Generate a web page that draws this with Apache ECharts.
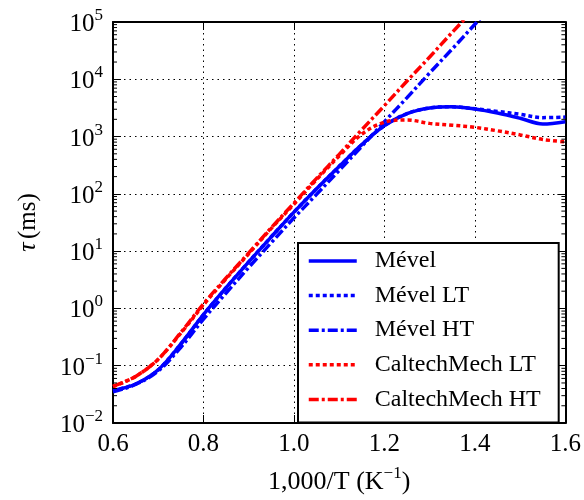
<!DOCTYPE html>
<html>
<head>
<meta charset="utf-8">
<script src="https://cdn.jsdelivr.net/npm/echarts@6/dist/echarts.min.js"></script>
<style>
  html, body { margin: 0; padding: 0; background: #fff; }
  #chart { width: 584px; height: 500px; }
</style>
</head>
<body>
<div id="chart"></div>
<script>
// 1000/T values (K^-1)
const invT = [0.60, 0.65, 0.70, 0.75, 0.80, 0.85, 0.90, 0.95, 1.00, 1.05, 1.10,
              1.15, 1.20, 1.25, 1.30, 1.35, 1.40, 1.45, 1.50, 1.55, 1.60];

// ignition delay tau (ms)
const mevel = [0.037, 0.048, 0.085, 0.24, 0.78, 2.3, 6.5, 17.8, 48, 123, 302,
               725, 1550, 2510, 3160, 3310, 3020, 2570, 2090, 1660, 1820];
const mevelLT = [0.037, 0.048, 0.085, 0.24, 0.78, 2.3, 6.5, 17.8, 48, 123, 302,
                 725, 1550, 2510, 3160, 3310, 3050, 2750, 2450, 2140, 2190];
const mevelHT = [0.035, 0.047, 0.081, 0.21, 0.65, 1.86, 5.2, 14.1, 38, 98, 257,
                 676, 1820, 4790, 12900, 33900, 91200, 240000];
const caltechLT = [0.043, 0.065, 0.13, 0.37, 1.15, 3.3, 9.0, 25, 66, 178, 457,
                   1100, 1780, 1950, 1700, 1580, 1450, 1260, 1070, 890, 810];
const caltechHT = [0.044, 0.065, 0.13, 0.38, 1.2, 3.4, 9.3, 25.7, 69, 186, 490,
                   1320, 3470, 9330, 24500, 66100, 174000];

// minor log ticks 2..9 x 10^n
const minorTicks = [];
for (let e = -2; e < 5; e++) {
    for (let k = 2; k < 10; k++) minorTicks.push(k * Math.pow(10, e));
}

const FONT = "Liberation Serif";
const pair = (ys) => ys.map((y, i) => [invT[i], y]);

function supLabel(v) {
    const e = Math.round(Math.log10(v));
    const s = e < 0 ? "\u2212" + (-e) : String(e);
    return "{b|10}{s|" + s + "}";
}

const supRich = {
    b: { fontFamily: FONT, fontSize: 25, color: "#000", lineHeight: 30, verticalAlign: "bottom" },
    s: { fontFamily: FONT, fontSize: 17, color: "#000", lineHeight: 18, verticalAlign: "top" }
};

const chart = echarts.init(document.getElementById("chart"));

const lineSeries = (name, ys, color, type) => ({
    name: name,
    type: "line",
    data: pair(ys),
    smooth: 0.35,
    symbol: "none",
    clip: true,
    z: 3,
    lineStyle: { color: color, width: 3.5, type: type },
    itemStyle: { color: color }
});

const option = {
    animation: false,
    backgroundColor: "#fff",
    grid: { left: 113, right: 18, top: 22, bottom: 77 },
    xAxis: [
        {
            type: "value",
            min: 0.6,
            max: 1.6,
            interval: 0.2,
            name: "{n|1,000/T (K}{s|\u22121}{n|)}",
            nameLocation: "middle",
            nameGap: 42,
            nameTextStyle: {
                rich: {
                    n: { fontFamily: FONT, fontSize: 26, color: "#000", lineHeight: 30, verticalAlign: "bottom" },
                    s: { fontFamily: FONT, fontSize: 17, color: "#000", lineHeight: 16, verticalAlign: "top" }
                }
            },
            axisLine: { show: true, onZero: false, lineStyle: { color: "#000", width: 2 } },
            axisTick: { show: true, inside: true, length: 8, lineStyle: { color: "#000", width: 1 } },
            axisLabel: {
                fontFamily: FONT, fontSize: 25, color: "#000", margin: 9,
                formatter: (v) => v.toFixed(1)
            },
            splitLine: { show: true, lineStyle: { color: "#000", width: 1, type: [1.5, 4] } }
        },
        {
            type: "value",
            position: "top",
            min: 0.6,
            max: 1.6,
            interval: 0.2,
            axisLine: { show: true, onZero: false, lineStyle: { color: "#000", width: 2 } },
            axisTick: { show: true, inside: true, length: 8, lineStyle: { color: "#000", width: 1 } },
            axisLabel: { show: false },
            splitLine: { show: false }
        }
    ],
    yAxis: [
        {
            type: "log",
            logBase: 10,
            min: 0.01,
            max: 100000,
            splitNumber: 7,
            name: "{i|\u03c4} {n|(ms)}",
            nameLocation: "middle",
            nameGap: 72,
            nameTextStyle: {
                rich: {
                    i: { fontFamily: FONT, fontSize: 26, fontStyle: "italic", color: "#000" },
                    n: { fontFamily: FONT, fontSize: 25, color: "#000" }
                }
            },
            axisLine: { show: true, onZero: false, lineStyle: { color: "#000", width: 2 } },
            axisTick: { show: true, inside: true, length: 8, lineStyle: { color: "#000", width: 1 } },
            axisLabel: { margin: 10, formatter: supLabel, rich: supRich },
            splitLine: { show: true, lineStyle: { color: "#000", width: 1, type: [1.5, 4] } }
        },
        {
            type: "log",
            logBase: 10,
            min: 0.01,
            max: 100000,
            splitNumber: 7,
            position: "right",
            axisLine: { show: true, onZero: false, lineStyle: { color: "#000", width: 2 } },
            axisTick: { show: true, inside: true, length: 8, lineStyle: { color: "#000", width: 1 } },
            axisLabel: { show: false },
            splitLine: { show: false }
        }
    ],
    legend: {
        data: ["M\u00e9vel", "M\u00e9vel LT", "M\u00e9vel HT", "CaltechMech LT", "CaltechMech HT"],
        orient: "vertical",
        left: 298,
        top: 243,
        padding: [6, 18, 11, 9],
        itemGap: 10.6,
        itemWidth: 48,
        itemHeight: 22,
        itemStyle: { opacity: 0 },
        lineStyle: { width: 3.5 },
        backgroundColor: "#fff",
        borderColor: "#000",
        borderWidth: 2,
        borderRadius: 0,
        z: 10,
        textStyle: {
            fontFamily: FONT, fontSize: 24, color: "#000", lineHeight: 22,
            padding: [0, 0, 0, 13]
        }
    },
    series: [
        lineSeries("M\u00e9vel", mevel, "#0000ff", "solid"),
        lineSeries("M\u00e9vel LT", mevelLT, "#0000ff", [4, 3]),
        lineSeries("M\u00e9vel HT", mevelHT, "#0000ff", [10, 3, 3, 3]),
        lineSeries("CaltechMech LT", caltechLT, "#ff0000", [4, 3]),
        lineSeries("CaltechMech HT", caltechHT, "#ff0000", [10, 3, 3, 3]),
        {
            name: "minor",
            type: "custom",
            silent: true,
            z: 4,
            data: minorTicks.map((v) => [0.6, v]),
            renderItem: function (params, api) {
                const v = api.value(1);
                const l = api.coord([0.6, v]);
                const r = api.coord([1.6, v]);
                const st = { stroke: "#000", lineWidth: 1 };
                return {
                    type: "group",
                    children: [
                        { type: "line", shape: { x1: l[0], y1: l[1], x2: l[0] + 4, y2: l[1] }, style: st },
                        { type: "line", shape: { x1: r[0] - 4, y1: r[1], x2: r[0], y2: r[1] }, style: st }
                    ]
                };
            }
        }
    ]
};

chart.setOption(option);
</script>
</body>
</html>
